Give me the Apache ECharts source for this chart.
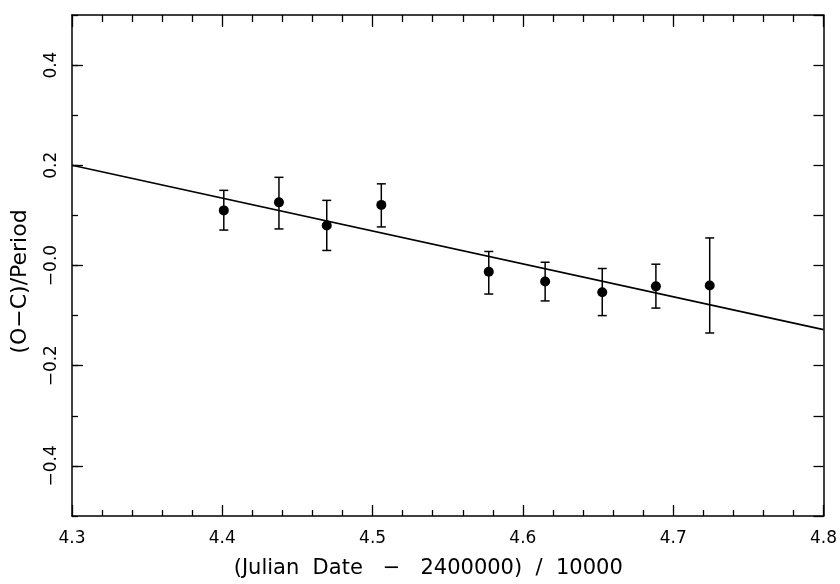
<!DOCTYPE html>
<html>
<head>
<meta charset="utf-8">
<script src="https://cdn.jsdelivr.net/npm/echarts@6/dist/echarts.min.js"></script>
<style>html,body{margin:0;padding:0;background:#fff;}#c{width:840px;height:584px;}</style>
</head>
<body>
<div id="c"></div>
<script>
// Data
const xValues = [4.401, 4.4377, 4.4695, 4.5058, 4.5773, 4.6148, 4.6528, 4.6885, 4.7243];
const yValues = [0.110, 0.126, 0.080, 0.121, -0.0125, -0.032, -0.0535, -0.0416, -0.040];
const yLow    = [0.0707, 0.073, 0.030, 0.077, -0.057, -0.0707, -0.100, -0.085, -0.1347];
const yHigh   = [0.150, 0.176, 0.130, 0.163, 0.028, 0.0065, -0.006, 0.0026, 0.055];
const fitX = [4.3, 4.8];
const fitY = [0.200, -0.128];
const yMajorTicks = [-0.4, -0.2, 0, 0.2, 0.4];

const FONT = 'DejaVu Sans';
const INK = '#000';

const points = xValues.map((x, i) => [x, yValues[i]]);
const bars = xValues.map((x, i) => [x, yLow[i], yHigh[i]]);
const fit = fitX.map((x, i) => [x, fitY[i]]);

const chart = echarts.init(document.getElementById('c'));
const yBase = {type: 'value', min: -0.5, max: 0.5, splitLine: {show: false}};
const lineOn = {show: true, onZero: false, lineStyle: {color: INK, width: 1.5}};
chart.setOption({
  animation: false,
  backgroundColor: '#fff',
  grid: {left: 72, right: 13, top: 15, bottom: 65, containLabel: false},
  xAxis: [
    {
      type: 'value', min: 4.3, max: 4.8, interval: 0.1, position: 'bottom',
      axisLine: lineOn,
      axisTick: {show: true, inside: true, length: 11, lineStyle: {color: INK, width: 1.3}},
      minorTick: {show: true, splitNumber: 5, length: 6, lineStyle: {color: INK, width: 1.3}},
      splitLine: {show: false}, minorSplitLine: {show: false},
      axisLabel: {color: INK, fontFamily: FONT, fontSize: 17, margin: 14,
        formatter: v => v.toFixed(1)},
      name: '(Julian  Date   \u2212   2400000)  /  10000',
      nameLocation: 'middle', nameGap: 42,
      nameTextStyle: {color: INK, fontFamily: FONT, fontSize: 21, padding: [0, 39, 0, 0]}
    },
    {
      type: 'value', min: 4.3, max: 4.8, interval: 0.1, position: 'top',
      axisLine: lineOn,
      axisTick: {show: true, inside: true, length: 12, lineStyle: {color: INK, width: 1.3}},
      minorTick: {show: true, splitNumber: 5, length: 7, lineStyle: {color: INK, width: 1.3}},
      splitLine: {show: false}, minorSplitLine: {show: false},
      axisLabel: {show: false}
    }
  ],
  yAxis: [
    Object.assign({}, yBase, {
      position: 'left', interval: 0.1,
      axisLine: lineOn,
      axisTick: {show: true, inside: true, length: 6, lineStyle: {color: INK, width: 1.3}},
      axisLabel: {color: INK, fontFamily: FONT, fontSize: 17, rotate: 90, margin: 12,
        formatter: v => {
          const k = Math.round(v * 10);
          if (Math.abs(k) === 5 || k % 2 !== 0) return '';
          if (k === 0) return '\u22120.0';
          return (k < 0 ? '\u2212' : '') + Math.abs(k / 10).toFixed(1);
        }},
      name: '(O\u2212C)/Period', nameLocation: 'middle', nameRotate: 90, nameGap: 41,
      nameTextStyle: {color: INK, fontFamily: FONT, fontSize: 22, padding: [0, 32, 0, 0]}
    }),
    Object.assign({}, yBase, {
      position: 'left',
      axisLine: {show: false, onZero: false},
      axisTick: {show: true, inside: true, length: 11, customValues: yMajorTicks, lineStyle: {color: INK, width: 1.3}},
      axisLabel: {show: false}
    }),
    Object.assign({}, yBase, {
      position: 'right', interval: 0.1,
      axisLine: lineOn,
      axisTick: {show: true, inside: true, length: 10, lineStyle: {color: INK, width: 1.3}},
      axisLabel: {show: false}
    })
  ],
  series: [
    {
      type: 'line', data: fit, xAxisIndex: 0, yAxisIndex: 0,
      symbol: 'none', lineStyle: {color: INK, width: 1.6}, z: 2
    },
    {
      type: 'custom', data: bars, xAxisIndex: 0, yAxisIndex: 0, z: 3,
      renderItem: function (params, api) {
        const x = api.value(0);
        const lo = api.coord([x, api.value(1)]);
        const hi = api.coord([x, api.value(2)]);
        const hw = 4.5;
        const style = {stroke: INK, lineWidth: 1.5};
        return {
          type: 'group',
          children: [
            {type: 'line', shape: {x1: lo[0], y1: lo[1], x2: hi[0], y2: hi[1]}, style: style},
            {type: 'line', shape: {x1: lo[0] - hw, y1: lo[1], x2: lo[0] + hw, y2: lo[1]}, style: style},
            {type: 'line', shape: {x1: hi[0] - hw, y1: hi[1], x2: hi[0] + hw, y2: hi[1]}, style: style}
          ]
        };
      }
    },
    {
      type: 'scatter', data: points, xAxisIndex: 0, yAxisIndex: 0, z: 4,
      symbol: 'circle', symbolSize: 10, itemStyle: {color: INK, opacity: 1}
    }
  ]
});
</script>
</body>
</html>
